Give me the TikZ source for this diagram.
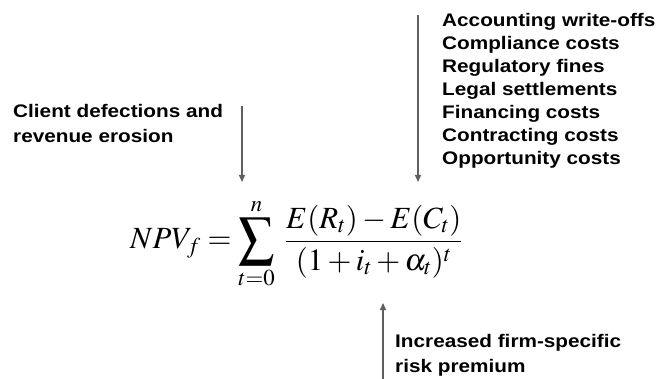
\documentclass[tikz,border=0pt]{standalone}
\usepackage{amsmath}
\usepackage{graphicx}
\usepackage{mathptmx}
\usepackage{fontspec}
\setmainfont{Liberation Sans}[FakeStretch=1.14]
\usetikzlibrary{arrows.meta}
\definecolor{arrowgray}{RGB}{95,95,95}
\newcommand{\bigsum}{\mathop{\vcenter{\hbox{\scalebox{1.15}[1.25]{$\displaystyle\sum$}}}}\limits}

\begin{document}
\begin{tikzpicture}[x=1pt, y=-1pt,
            lbl/.style={anchor=base west, inner sep=0pt, align=left, font=\fontsize{18.2}{23}\selectfont\bfseries},
            arr/.style={draw=arrowgray, line width=1.4pt, -{Triangle[length=7pt, width=6pt]}}]
            \useasboundingbox (0,0) rectangle (661,379);
            % anchors sit on the last baseline of each block
            \node [lbl] (costs) at (442,165) {Accounting write-offs\\Compliance costs\\Regulatory fines\\Legal settlements\\Financing costs\\Contracting costs\\Opportunity costs};
            \node [lbl, font=\fontsize{18.2}{25}\selectfont\bfseries] (client) at (13,143) {Client defections and\\revenue erosion};
            \node [lbl, font=\fontsize{18.2}{25}\selectfont\bfseries] (premium) at (395,372) {Increased firm-specific\\risk premium};
            \node [anchor=base west, inner sep=0pt, font=\fontsize{30.8}{36}\selectfont] (npv) at (130,249)
              {$\displaystyle NPV_f=\bigsum_{t=0}^{n}\;\frac{E(R_t)-E(C_t)}{(1+i_t+\alpha_t)^t}$};

            \coordinate (costs top) at (418,15);
            \coordinate (costs tip) at (418,182);
            \coordinate (client top) at (242,106);
            \coordinate (client tip) at (242,182);
            \coordinate (premium foot) at (383,379);
            \coordinate (premium tip) at (383,303);

            \path [arr] (costs top) -- (costs tip);
            \path [arr] (client top) -- (client tip);
            \path [arr] (premium foot) -- (premium tip);
        \end{tikzpicture}
\end{document}
